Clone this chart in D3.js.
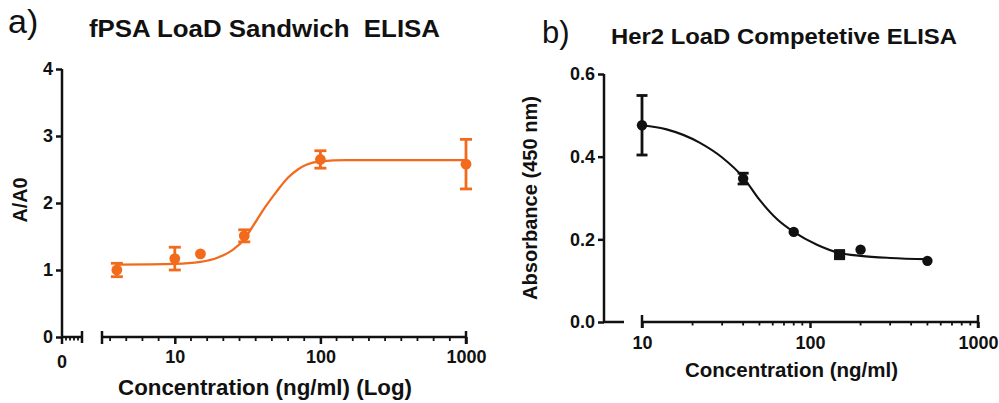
<!DOCTYPE html>
<html><head><meta charset="utf-8">
<script src="https://cdn.jsdelivr.net/npm/d3@7"></script>
<style>
html,body{margin:0;padding:0;background:#fff;}
text{font-family:"Liberation Sans",Arial,Helvetica,sans-serif;white-space:pre;}
</style></head>
<body>
<svg id="chart" width="999" height="403"></svg>
<script>
// ---------- Data: panel a (fPSA LoaD Sandwich ELISA) ----------
const aConc = [4, 10, 15, 30, 100, 1000];
const aMean = [1.00, 1.17, 1.24, 1.51, 2.65, 2.58];
const aErr  = [0.10, 0.17, 0, 0.09, 0.13, 0.37];
const aFitConc = [4, 10, 15, 20, 25, 30, 35, 40, 50, 60, 70, 80, 100, 150, 300, 1000];
const aFitVal  = [1.08, 1.09, 1.12, 1.19, 1.30, 1.46, 1.68, 1.88, 2.17, 2.38, 2.50, 2.57, 2.62, 2.64, 2.64, 2.64];
const aYTicks = [0, 1, 2, 3, 4];
const aXTicks = [10, 100, 1000];

// ---------- Data: panel b (Her2 LoaD Competetive ELISA) ----------
const bConc = [10, 40, 80, 150, 200, 500];
const bMean = [0.476, 0.347, 0.218, 0.163, 0.175, 0.148];
const bErr  = [0.072, 0.013, 0, 0.006, 0, 0];
const bShape = ["circle", "circle", "circle", "square", "circle", "circle"];
const bFitConc = [10, 14, 22, 30, 40, 50, 64, 80, 110, 150, 200, 300, 500];
const bFitVal  = [0.476, 0.466, 0.434, 0.398, 0.350, 0.296, 0.248, 0.218, 0.187, 0.167, 0.160, 0.155, 0.152];
const bYTicks = [0.0, 0.2, 0.4, 0.6];
const bXTicks = [10, 100, 1000];

const svg = d3.select("#chart");
const ORANGE = "#f26b1d";
const BLACK = "#111";
const SW = 2.5;
const TICKFS = 18;

function fitText(t, len){ t.attr("textLength", len).attr("lengthAdjust", "spacingAndGlyphs"); }

// ================= Panel a =================
{
  const g = svg.append("g");
  const y = d3.scaleLinear().domain([0, 4]).range([337, 69]);
  const x = d3.scaleLog().domain([Math.sqrt(10), 1000]).range([102, 466]);
  const axisY = 337;

  g.append("g").attr("transform", "translate(62,0)")
    .call(d3.axisLeft(y).tickValues(aYTicks).tickFormat(d3.format("d")).tickSize(6).tickPadding(3))
    .call(s => { s.select(".domain").attr("d", `M0,${y(4)}V${axisY}`).attr("stroke", BLACK).attr("stroke-width", SW);
                 s.selectAll(".tick line").attr("stroke", BLACK).attr("stroke-width", SW);
                 s.selectAll(".tick text").attr("font-size", TICKFS).attr("font-weight", "bold").attr("fill", BLACK).attr("font-family", "Liberation Sans, Arial"); });

  const seg = g.append("g").attr("stroke", BLACK).attr("stroke-width", SW);
  seg.append("line").attr("x1", 62).attr("x2", 82).attr("y1", axisY).attr("y2", axisY);
  seg.append("line").attr("x1", 62).attr("x2", 62).attr("y1", axisY).attr("y2", axisY + 7);
  seg.append("line").attr("x1", 82).attr("x2", 82).attr("y1", axisY - 6).attr("y2", axisY + 6);
  [66, 70, 74, 78].forEach(px => seg.append("line").attr("x1", px).attr("x2", px).attr("y1", axisY).attr("y2", axisY + 3.5).attr("stroke-width", 1.8));
  g.append("text").attr("x", 62).attr("y", 368).attr("text-anchor", "middle")
    .attr("font-size", TICKFS).attr("font-weight", "bold").attr("fill", BLACK).text("0");

  const xa = g.append("g").attr("transform", `translate(0,${axisY})`)
    .call(d3.axisBottom(x).tickValues(aXTicks).tickFormat(d3.format("d")).tickSize(7).tickPadding(6));
  xa.select(".domain").attr("d", `M${x.range()[0]},0H${x.range()[1]}`).attr("stroke", BLACK).attr("stroke-width", SW);
  xa.selectAll(".tick line").attr("stroke", BLACK).attr("stroke-width", SW);
  xa.selectAll(".tick text").attr("font-size", TICKFS).attr("font-weight", "bold").attr("fill", BLACK).attr("font-family", "Liberation Sans, Arial");
  [x.range()[0], x.range()[1]].forEach(px => xa.append("line").attr("x1", px).attr("x2", px).attr("y1", -6).attr("y2", 7).attr("stroke", BLACK).attr("stroke-width", SW));
  const minor = [];
  [1, 10, 100].forEach(dec => {
    for (let k = 1; k <= 8; k++) {
      const px = x(dec) + (x(dec * 10) - x(dec)) * k / 9;
      if (px > x.range()[0] + 4 && px < x.range()[1] - 2) minor.push(px);
    }
  });
  minor.forEach(px => xa.append("line").attr("x1", px).attr("x2", px).attr("y1", 0).attr("y2", 4).attr("stroke", BLACK).attr("stroke-width", 1.8));

  const line = d3.line().x((d, i) => x(aFitConc[i])).y(d => y(d)).curve(d3.curveMonotoneX);
  g.append("path").attr("d", line(aFitVal)).attr("fill", "none").attr("stroke", ORANGE).attr("stroke-width", 2.3);

  aConc.forEach((c, i) => {
    const cx = x(c), m = aMean[i], e = aErr[i];
    if (e > 0) {
      const eg = g.append("g").attr("stroke", ORANGE).attr("stroke-width", 2.8);
      eg.append("line").attr("x1", cx).attr("x2", cx).attr("y1", y(m + e)).attr("y2", y(m - e));
      eg.append("line").attr("x1", cx - 6).attr("x2", cx + 6).attr("y1", y(m + e)).attr("y2", y(m + e));
      eg.append("line").attr("x1", cx - 6).attr("x2", cx + 6).attr("y1", y(m - e)).attr("y2", y(m - e));
    }
    g.append("circle").attr("cx", cx).attr("cy", y(m)).attr("r", 5.4).attr("fill", ORANGE);
  });

  g.append("text").attr("x", 8).attr("y", 33).attr("font-size", 34).attr("fill", BLACK).text("a)");
  fitText(g.append("text").attr("x", 89).attr("y", 37).attr("font-size", 23).attr("font-weight", "bold").attr("fill", BLACK)
    .text("fPSA LoaD Sandwich  ELISA"), 351);
  fitText(g.append("text").attr("x", 118).attr("y", 395).attr("font-size", 22).attr("font-weight", "bold").attr("fill", BLACK)
    .text("Concentration (ng/ml) (Log)"), 294);
  fitText(g.append("text").attr("transform", "translate(27,200) rotate(-90)").attr("text-anchor", "middle")
    .attr("font-size", 20).attr("font-weight", "bold").attr("fill", BLACK).text("A/A0"), 45);
}

// ================= Panel b =================
{
  const g = svg.append("g");
  const y = d3.scaleLinear().domain([0, 0.6]).range([322, 74]);
  const x = d3.scaleLog().domain([10, 1000]).range([642, 978]);
  const axisY = 322;

  g.append("g").attr("transform", "translate(604,0)")
    .call(d3.axisLeft(y).tickValues(bYTicks).tickFormat(d3.format(".1f")).tickSize(6).tickPadding(3))
    .call(s => { s.select(".domain").attr("d", `M0,${y(0.6)}V${axisY}H20`).attr("stroke", BLACK).attr("stroke-width", SW).attr("fill", "none");
                 s.selectAll(".tick line").attr("stroke", BLACK).attr("stroke-width", SW);
                 s.selectAll(".tick text").attr("font-size", TICKFS).attr("font-weight", "bold").attr("fill", BLACK).attr("font-family", "Liberation Sans, Arial"); });

  const xa = g.append("g").attr("transform", `translate(0,${axisY})`)
    .call(d3.axisBottom(x).tickValues(bXTicks).tickFormat(d3.format("d")).tickSize(6).tickPadding(8));
  xa.select(".domain").attr("d", `M${x.range()[0]},0H${x.range()[1]}`).attr("stroke", BLACK).attr("stroke-width", SW);
  xa.selectAll(".tick line").attr("stroke", BLACK).attr("stroke-width", SW);
  xa.selectAll(".tick text").attr("font-size", TICKFS).attr("font-weight", "bold").attr("fill", BLACK).attr("font-family", "Liberation Sans, Arial");
  [x.range()[0], x.range()[1]].forEach(px => xa.append("line").attr("x1", px).attr("x2", px).attr("y1", -7).attr("y2", 6).attr("stroke", BLACK).attr("stroke-width", SW));
  [10, 100].forEach(dec => { for (let k = 2; k <= 9; k++) {
    const px = x(dec * k);
    xa.append("line").attr("x1", px).attr("x2", px).attr("y1", 0).attr("y2", 3.5).attr("stroke", BLACK).attr("stroke-width", 1.8);
  }});

  const line = d3.line().x((d, i) => x(bFitConc[i])).y(d => y(d)).curve(d3.curveMonotoneX);
  g.append("path").attr("d", line(bFitVal)).attr("fill", "none").attr("stroke", BLACK).attr("stroke-width", 2.1);

  bConc.forEach((c, i) => {
    const cx = x(c), m = bMean[i], e = bErr[i];
    if (e > 0) {
      const eg = g.append("g").attr("stroke", BLACK).attr("stroke-width", 2.8);
      eg.append("line").attr("x1", cx).attr("x2", cx).attr("y1", y(m + e)).attr("y2", y(m - e));
      eg.append("line").attr("x1", cx - 5.5).attr("x2", cx + 5.5).attr("y1", y(m + e)).attr("y2", y(m + e));
      eg.append("line").attr("x1", cx - 5.5).attr("x2", cx + 5.5).attr("y1", y(m - e)).attr("y2", y(m - e));
    }
    if (bShape[i] === "square") g.append("rect").attr("x", cx - 5.5).attr("y", y(m) - 5.5).attr("width", 11).attr("height", 11).attr("fill", BLACK);
    else g.append("circle").attr("cx", cx).attr("cy", y(m)).attr("r", 5.2).attr("fill", BLACK);
  });

  g.append("text").attr("x", 542).attr("y", 43).attr("font-size", 31).attr("fill", BLACK).text("b)");
  fitText(g.append("text").attr("x", 611).attr("y", 44).attr("font-size", 22).attr("font-weight", "bold").attr("fill", BLACK)
    .text("Her2 LoaD Competetive ELISA"), 346);
  fitText(g.append("text").attr("x", 685).attr("y", 377).attr("font-size", 21).attr("font-weight", "bold").attr("fill", BLACK)
    .text("Concentration (ng/ml)"), 213);
  fitText(g.append("text").attr("transform", "translate(537,198) rotate(-90)").attr("text-anchor", "middle")
    .attr("font-size", 20).attr("font-weight", "bold").attr("fill", BLACK).text("Absorbance (450 nm)"), 204);
}
</script>
</body></html>
